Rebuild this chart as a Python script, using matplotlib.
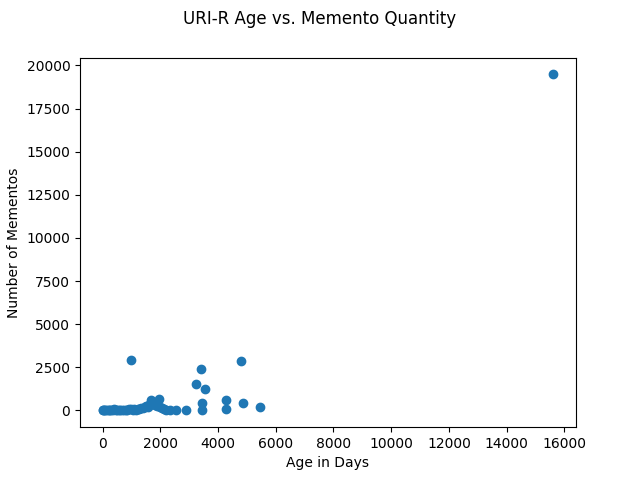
import matplotlib
matplotlib.use("Agg")
import matplotlib.pyplot as plt

age_days = [0, 20, 50, 90, 130, 180, 220, 260, 300, 350, 400, 450, 500, 560, 620, 680,
            740, 800, 860, 920, 980, 1040, 1100, 1160, 1220, 1280, 1340, 1400, 1460,
            1520, 1560, 1600, 1640, 1680, 1720, 1760, 1800, 1850, 1900, 1950, 1980,
            2050, 2120, 2210, 2350, 2560, 2900,
            970, 3400, 4800, 3250, 3550, 3450, 3450, 4270, 4270, 4860, 5460, 15620]
memento_count = [10, 5, 20, 8, 15, 30, 12, 25, 40, 18, 60, 22, 35, 15, 50, 28,
                 20, 45, 30, 60, 80, 40, 70, 55, 100, 90, 150, 130, 200,
                 260, 180, 320, 400, 620, 480, 350, 300, 450, 250, 680, 200,
                 120, 60, 30, 15, 10, 5,
                 2900, 2380, 2840, 1560, 1250, 440, 10, 600, 100, 450, 230, 19480]

fig = plt.figure(figsize=(6.4, 4.8), dpi=100)
ax = fig.add_subplot(111)
ax.scatter(age_days, memento_count)
fig.suptitle("URI-R Age vs. Memento Quantity")
ax.set_xlabel("Age in Days")
ax.set_ylabel("Number of Mementos")
fig.savefig("out.png")
